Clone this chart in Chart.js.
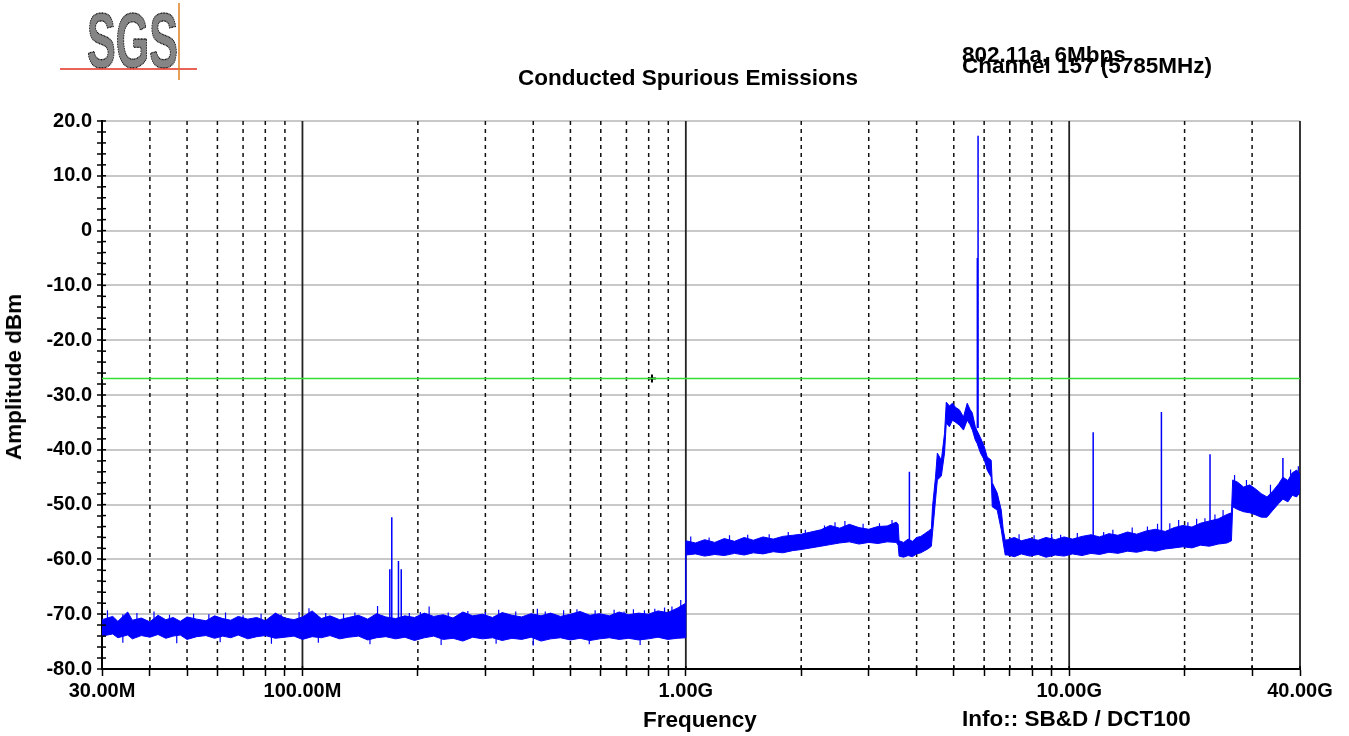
<!DOCTYPE html>
<html><head><meta charset="utf-8">
<script src="https://cdn.jsdelivr.net/npm/chart.js@4.4.0/dist/chart.umd.min.js"></script>
<style>
html,body{margin:0;padding:0;background:#fff;}
#wrap{position:relative;width:1349px;height:736px;overflow:hidden;font-family:"Liberation Sans",Arial,sans-serif;font-weight:bold;color:#000;}
canvas{position:absolute;left:0;top:0;}
.t{position:absolute;white-space:nowrap;font-size:22.5px;line-height:22px;}
</style></head><body>
<div id="wrap">
<canvas id="c" width="1349" height="736"></canvas>
<svg style="position:absolute;left:0;top:0" width="220" height="90">
 <text x="87" y="67" font-family="Liberation Sans Narrow, Liberation Sans, Arial" font-weight="bold" font-size="77" textLength="91" lengthAdjust="spacingAndGlyphs" fill="#858585" stroke="#000" stroke-width="1.3" stroke-dasharray="1.6 1">SGS</text>
 <line x1="60" y1="69" x2="197" y2="69" stroke="#e03020" stroke-width="1.5"/>
 <line x1="179" y1="3" x2="179" y2="80" stroke="#e08020" stroke-width="1.5"/>
</svg>
<div class="t" style="left:688px;top:67px;transform:translateX(-50%)">Conducted Spurious Emissions</div>
<div class="t" style="left:962px;top:44px">802.11a, 6Mbps</div>
<div class="t" style="left:962px;top:55px">Channel 157 (5785MHz)</div>
<div class="t" style="left:700px;top:709px;transform:translateX(-50%)">Frequency</div>
<div class="t" style="left:962px;top:708px">Info:: SB&amp;D / DCT100</div>
<div class="t" style="left:14px;top:377px;transform:translate(-50%,-50%) rotate(-90deg)">Amplitude dBm</div>
</div>
<script>
// ---- axis ticks ----
const xTickValues=[30,40,50,60,70,80,90,100,200,300,400,500,600,700,800,900,1000,2000,3000,4000,5000,6000,7000,8000,9000,10000,20000,30000,40000];
const xTickLabels=['30.00M','','','','','','','100.00M','','','','','','','','','1.00G','','','','','','','','','10.00G','','','40.00G'];
const yTickValues=[20,10,0,-10,-20,-30,-40,-50,-60,-70,-80];
const yTickLabels=['20.0','10.0','0','-10.0','-20.0','-30.0','-40.0','-50.0','-60.0','-70.0','-80.0'];

// ---- trace envelope, band 1 (30 MHz - 1 GHz) ----
const band1Freq=[30,32,33,35,36,38,40,42,44,46,48,50,53,56,59,62,65,68,72,76,80,85,90,95,100,106,112,118,125,132,140,148,156,165,175,185,196,208,220,233,247,262,278,295,313,332,352,373,395,419,444,471,500,530,562,596,632,670,710,753,798,846,897,950,999];
const band1Upper=[-71.0,-70.4,-71.3,-69.6,-71.1,-70.7,-71.4,-70.2,-71.0,-70.6,-71.3,-70.5,-70.9,-71.2,-70.3,-70.8,-71.1,-70.4,-70.9,-70.6,-71.2,-69.8,-70.7,-71.0,-70.5,-69.4,-70.8,-70.3,-71.0,-70.6,-70.2,-70.9,-69.9,-70.5,-70.8,-70.3,-70.6,-69.8,-70.4,-70.1,-70.7,-69.6,-70.3,-70.0,-70.6,-69.7,-70.2,-70.5,-69.9,-70.3,-69.8,-70.4,-70.0,-69.5,-70.2,-69.9,-70.3,-69.6,-70.1,-69.8,-70.0,-69.4,-69.7,-68.9,-68.0];
const band1Lower=[-74.0,-73.6,-74.3,-73.8,-74.5,-73.9,-74.2,-73.7,-74.4,-74.0,-73.8,-74.6,-74.1,-73.9,-74.4,-74.0,-74.3,-73.8,-74.5,-74.1,-73.9,-74.4,-74.2,-74.0,-74.6,-74.1,-74.3,-73.9,-74.5,-74.2,-74.0,-74.7,-74.3,-74.1,-74.5,-74.2,-74.8,-74.3,-74.0,-74.6,-74.4,-74.9,-74.2,-74.5,-74.3,-74.8,-74.4,-74.6,-74.2,-74.9,-74.5,-74.3,-74.7,-74.4,-74.8,-74.5,-74.3,-74.6,-74.4,-74.7,-74.5,-74.2,-74.6,-74.4,-74.3];

// ---- band 2 (1 GHz - 3.6 GHz) ----
const band2Freq=[1000,1060,1120,1190,1260,1340,1420,1500,1590,1690,1790,1900,2000,2120,2250,2380,2520,2670,2830,3000,3170,3350,3540,3580];
const band2Upper=[-56.6,-57.0,-56.4,-56.9,-56.2,-56.7,-56.0,-56.5,-55.9,-56.3,-55.8,-55.6,-55.4,-55.0,-54.6,-53.8,-54.3,-53.6,-54.2,-54.5,-54.0,-53.9,-53.2,-53.6];
const band2Lower=[-59.2,-59.0,-59.4,-59.1,-59.3,-58.9,-59.2,-58.8,-59.0,-58.6,-58.8,-58.4,-58.2,-57.9,-57.6,-57.3,-57.0,-56.8,-57.2,-56.9,-57.1,-56.8,-56.9,-57.4];

// ---- band 3 (3.6 GHz - 4.4 GHz) ----
const band3Freq=[3600,3700,3800,3900,4000,4100,4200,4300,4370];
const band3Upper=[-56.6,-56.9,-56.3,-56.7,-56.0,-55.8,-55.3,-54.8,-54.4];
const band3Lower=[-59.4,-59.6,-59.3,-59.5,-59.0,-58.8,-58.4,-58.0,-57.6];

// ---- band 4 (in-band emission 4.4 GHz - 6.8 GHz) ----
const band4Freq=[4400,4480,4530,4640,4730,4780,4870,4960,5060,5170,5300,5420,5510,5590,5690,5750,5870,6010,6110,6260,6300,6490,6650,6730,6810];
const band4Upper=[-50.4,-45.0,-40.6,-41.9,-37.0,-31.3,-32.0,-31.5,-32.3,-32.7,-34.0,-31.5,-32.6,-33.3,-35.8,-36.5,-37.8,-39.5,-41.3,-41.9,-46.0,-47.9,-51.0,-54.6,-56.5];
const band4Lower=[-55.2,-49.2,-45.5,-44.8,-40.6,-35.1,-35.8,-34.6,-35.0,-35.5,-36.4,-34.6,-35.4,-36.4,-38.2,-38.8,-40.6,-41.9,-43.7,-45.0,-50.4,-51.0,-54.6,-57.0,-59.2];

// ---- band 5 (6.9 GHz - 40 GHz) ----
const band5Freq=[6900,7200,7500,7900,8300,8700,9200,9700,10200,10800,11400,12000,12700,13400,14200,15000,15900,16800,17800,18800,19800,20900,22000,23200,24500,25800,26500,26700,27500,28500,29600,30700,31700,32800,34000,35200,36100,37200,38200,39200,40000];
const band5Upper=[-56.4,-56.0,-56.6,-56.2,-56.5,-56.0,-56.4,-55.9,-56.3,-55.8,-55.5,-55.9,-55.3,-55.6,-55.0,-55.4,-54.8,-54.5,-54.9,-54.2,-53.8,-54.1,-53.4,-53.0,-52.6,-51.8,-51.5,-45.5,-45.9,-46.8,-46.4,-47.2,-48.0,-48.6,-47.5,-46.2,-45.0,-45.6,-44.2,-43.7,-44.5];
const band5Lower=[-59.2,-59.5,-59.0,-59.4,-59.1,-59.6,-59.2,-59.4,-59.0,-59.3,-58.9,-59.1,-58.7,-58.9,-58.5,-58.7,-58.3,-58.5,-58.1,-57.9,-57.7,-57.9,-57.4,-57.6,-57.2,-57.0,-56.6,-50.4,-50.9,-51.3,-51.5,-51.9,-52.3,-52.3,-51.0,-49.8,-49.0,-49.5,-48.3,-48.6,-47.8];

// ---- noise peaks poking out of the band (freq MHz, tip dBm, root dBm) ----
const noisePeakFreq=[31,34,37,41,45,52,57,63,70,78,88,98,104,115,128,137,157,190,203,214,240,270,300,325,360,410,430,480,520,580,650,690,730,780,830,880,920,970,
  1030,1150,1300,1450,1650,1850,2050,2300,2450,2600,2900,3200,3450,
  7400,8100,9000,9500,10500,12300,13000,14600,16000,17000,18300,19300,20400,21500,22600,24000,25200,27000,29000,33500,37800,39600];
const noisePeakTip=[-69.3,-70.0,-69.8,-69.5,-70.1,-69.9,-70.0,-69.7,-70.2,-69.9,-70.0,-69.6,-68.9,-69.8,-69.9,-69.7,-68.5,-69.8,-69.6,-68.6,-69.7,-69.4,-69.6,-69.2,-69.5,-69.0,-69.5,-69.3,-69.1,-69.3,-69.2,-69.5,-69.1,-69.3,-69.0,-68.8,-68.6,-67.4,
  -55.8,-56.0,-55.6,-55.5,-55.4,-55.0,-54.6,-53.8,-53.2,-53.0,-53.5,-53.4,-52.8,
  -55.4,-55.6,-55.3,-55.5,-55.2,-55.0,-54.6,-54.2,-54.0,-53.5,-53.4,-52.8,-53.2,-52.6,-52.5,-51.8,-51.0,-44.6,-45.5,-46.4,-43.6,-43.0];
const noisePeakRoot=[-72,-72,-72,-72,-72,-72,-72,-72,-72,-72,-72,-72,-72,-72,-72,-72,-72,-72,-72,-72,-72,-72,-72,-72,-72,-72,-72,-72,-72,-72,-72,-72,-72,-72,-72,-72,-72,-72,
  -58,-58,-58,-58,-57.5,-57.5,-57,-56,-56,-55.5,-56,-55.5,-55.5,
  -58,-58,-58,-58,-57.5,-57.5,-57,-57,-56.5,-56.5,-56,-56,-55.5,-55.5,-55,-55,-54.5,-48,-49,-50,-46.5,-46];
const noiseDipFreq=[34,47,61,83,110,150,230,320,400,560,760];
const noiseDipBottom=[-75.2,-75.3,-75.1,-75.4,-75.2,-75.5,-75.6,-75.4,-75.7,-75.5,-75.6];

// ---- discrete spurs ----
const spikeFreqMHz=[169,171,178,181,3830,5760,5785,11550,17400,23300,36100];
const spikeTopDbm=[-61.8,-52.3,-60.3,-61.8,-44.0,-5.0,17.3,-36.8,-33.1,-40.8,-41.5];
const spikeBaseDbm=[-71.5,-71.5,-71.5,-71.5,-57.5,-36.0,-36.0,-57.5,-55.5,-54.5,-47.5];

// ---- limit line and marker ----
const limitDbm=-27;
const markerFreqMHz=[816];

const freqAll=[].concat(band1Freq,band2Freq,band3Freq,band4Freq,band5Freq);
const upperAll=[].concat(band1Upper,band2Upper,band3Upper,band4Upper,band5Upper);
const lowerAll=[].concat(band1Lower,band2Lower,band3Lower,band4Lower,band5Lower);
const spikeData=[];
spikeFreqMHz.forEach((f,i)=>{spikeData.push({x:f,y:spikeBaseDbm[i]},{x:f,y:spikeTopDbm[i]},{x:f,y:null});});
const noiseData=[];
noisePeakFreq.forEach((f,i)=>{noiseData.push({x:f,y:noisePeakRoot[i]},{x:f,y:noisePeakTip[i]},{x:f,y:null});});
noiseDipFreq.forEach((f,i)=>{noiseData.push({x:f,y:-72.5},{x:f,y:noiseDipBottom[i]},{x:f,y:null});});

const FONT={family:'"Liberation Sans", Arial, sans-serif',weight:'bold',size:20};

const gridPlugin={
  id:'vgrid',
  beforeDatasetsDraw(chart){
    const {ctx,chartArea:a,scales:{x}}=chart;
    ctx.save();
    xTickValues.forEach((v,i)=>{
      const px=x.getPixelForValue(v);
      const decade=xTickLabels[i]!=='';
      if(i===0) return;
      ctx.beginPath();
      if(decade){ctx.setLineDash([]);ctx.strokeStyle='#222';ctx.lineWidth=1.8;}
      else{ctx.setLineDash([4,4]);ctx.strokeStyle='#111';ctx.lineWidth=1.5;}
      ctx.moveTo(px,a.top);ctx.lineTo(px,a.bottom);ctx.stroke();
    });
    ctx.restore();
  },
  afterDraw(chart){
    const {ctx,chartArea:a,scales:{x,y}}=chart;
    ctx.save();
    ctx.strokeStyle='#000';ctx.lineWidth=1.5;ctx.setLineDash([]);
    y.ticks.forEach(t=>{const py=y.getPixelForValue(t.value);ctx.beginPath();ctx.moveTo(a.left,py);ctx.lineTo(a.left+4,py);ctx.stroke();});
    xTickValues.forEach(v=>{const px=x.getPixelForValue(v);ctx.beginPath();ctx.moveTo(px,a.bottom);ctx.lineTo(px,a.bottom-3);ctx.stroke();});
    ctx.restore();
  }
};

new Chart(document.getElementById('c'),{
  type:'line',
  data:{datasets:[
    {label:'spurs',data:spikeData,borderColor:'#0000ff',borderWidth:1.5,pointRadius:0,spanGaps:false,fill:false,tension:0},
    {label:'noise',data:noiseData,borderColor:'#0000ff',borderWidth:1.2,pointRadius:0,spanGaps:false,fill:false,tension:0},
    {label:'upper',data:freqAll.map((f,i)=>({x:f,y:upperAll[i]})),borderColor:'#0000ff',borderWidth:1,backgroundColor:'#0000ff',fill:'+1',pointRadius:0,tension:0},
    {label:'lower',data:freqAll.map((f,i)=>({x:f,y:lowerAll[i]})),borderColor:'#0000ff',borderWidth:1,fill:false,pointRadius:0,tension:0},
    {label:'limit',data:[{x:30,y:limitDbm},{x:40000,y:limitDbm}],borderColor:'#33dd33',borderWidth:1.5,pointRadius:0,fill:false},
    {label:'marker',data:markerFreqMHz.map(f=>({x:f,y:limitDbm})),showLine:false,pointStyle:'cross',pointRadius:4,borderColor:'#000',borderWidth:2}
  ]},
  options:{
    responsive:false,animation:false,devicePixelRatio:1,
    layout:{padding:{top:121,right:49,left:0,bottom:0}},
    plugins:{legend:{display:false},tooltip:{enabled:false},title:{display:false}},
    scales:{
      x:{type:'logarithmic',min:30,max:40000,
        afterBuildTicks(s){s.ticks=xTickValues.map(v=>({value:v}));},
        afterFit(s){s.height=67;},
        grid:{drawOnChartArea:false,drawTicks:true,tickLength:7,tickColor:'#000',tickWidth:1.5},
        border:{display:true,color:'#000',width:2},
        ticks:{autoSkip:false,maxRotation:0,minRotation:0,padding:3,color:'#000',font:FONT,
          callback(v){const i=xTickValues.indexOf(v);return i>=0?xTickLabels[i]:'';}}
      },
      y:{min:-80,max:20,
        afterFit(s){s.width=102;},
        ticks:{stepSize:2,maxTicksLimit:60,autoSkip:false,padding:5,color:'#000',font:FONT,
          callback(v){const i=yTickValues.indexOf(v);return i>=0?yTickLabels[i]:'';}},
        grid:{color(c){return (c.tick&&yTickValues.includes(c.tick.value))?'#c8c8c8':'rgba(0,0,0,0)';},lineWidth:2,tickColor:'#000',tickLength:5,tickWidth:1.5},
        border:{color:'#000',width:2}
      }
    }
  },
  plugins:[gridPlugin]
});
</script>
</body></html>
